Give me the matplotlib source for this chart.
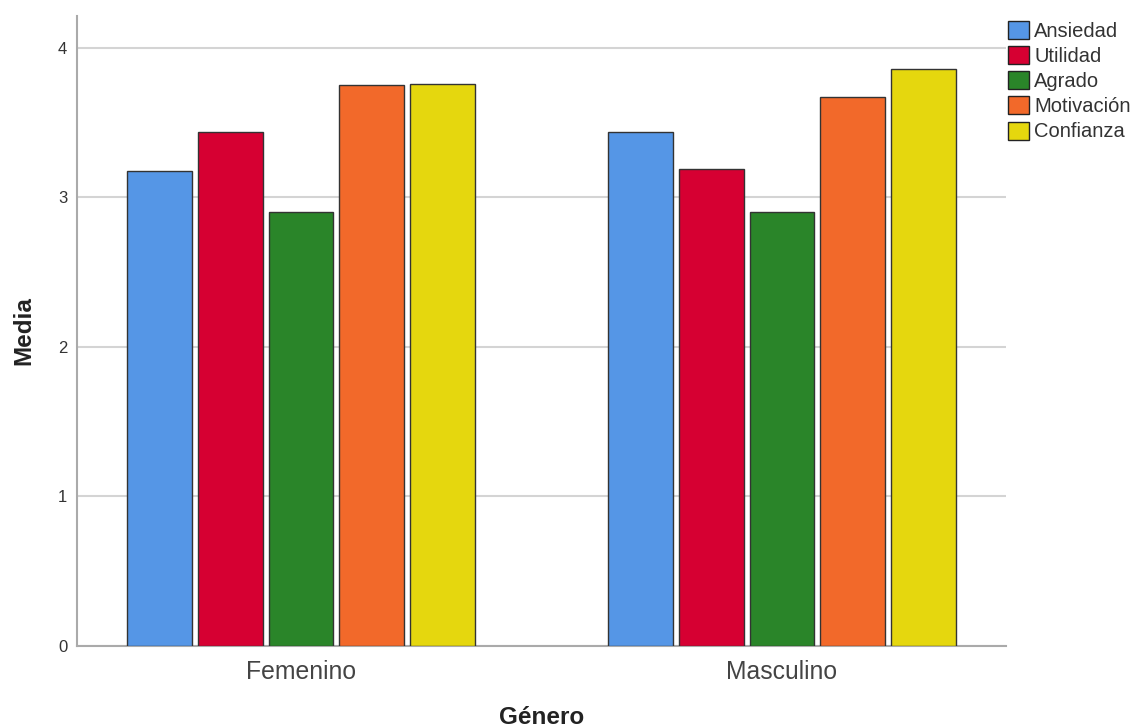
import matplotlib
matplotlib.use("Agg")
import matplotlib.pyplot as plt
import numpy as np
from matplotlib.patches import Patch

plt.rcParams['font.family'] = ['Liberation Sans', 'DejaVu Sans']

groups = ["Femenino", "Masculino"]
series = ["Ansiedad", "Utilidad", "Agrado", "Motivación", "Confianza"]
ansiedad = [3.18, 3.44]
utilidad = [3.44, 3.19]
agrado = [2.90, 2.90]
motivacion = [3.75, 3.67]
confianza = [3.76, 3.86]
values = [ansiedad, utilidad, agrado, motivacion, confianza]
colors = ["#5596E6", "#D60032", "#2A8529", "#F2692A", "#E5D70E"]
yticks = [0, 1, 2, 3, 4]

fig = plt.figure(figsize=(11.34, 7.27), dpi=100)
ax = fig.add_axes([77/1134, 1-646/727, (1006-77)/1134, (646-16)/727])

x = np.arange(len(groups))
slot = 0.147
width = 0.134
for i, (name, vals, c) in enumerate(zip(series, values, colors)):
    ax.bar(x + (i - 2) * slot, vals, width=width, color=c, edgecolor="#333333",
           linewidth=1.0, label=name, zorder=3)

ax.set_xlim(-0.4657, 1.4657)
ax.set_ylim(0, 4.214)
ax.set_yticks(yticks)
ax.set_yticklabels([str(t) for t in yticks], fontsize=12, color="#333333")
ax.set_xticks(x)
ax.set_xticklabels(groups, fontsize=17.8, color="#444444")
ax.tick_params(axis='both', length=0)
ax.tick_params(axis='y', pad=7)
ax.tick_params(axis='x', pad=10)
ax.yaxis.grid(True, color="#d4d4d4", linewidth=1.5, zorder=0)
ax.set_axisbelow(True)
for s in ["top", "right"]:
    ax.spines[s].set_visible(False)
for s in ["left", "bottom"]:
    ax.spines[s].set_color("#aaaaaa")
    ax.spines[s].set_linewidth(1.5)

ax.set_ylabel("Media", fontsize=17.5, fontweight="bold", color="#222222", labelpad=16)
ax.set_xlabel("Género", fontsize=17.5, fontweight="bold", color="#222222", labelpad=16)

handles = [Patch(facecolor=c, edgecolor="#222222", linewidth=1.0, label=n) for n, c in zip(series, colors)]
leg = fig.legend(handles=handles, loc="upper left", bbox_to_anchor=(1008/1134, 1-21/727),
                 frameon=False, fontsize=14.5, handlelength=1.05, handleheight=1.0,
                 handletextpad=0.25, labelspacing=0.26, borderaxespad=0, borderpad=0.0)
for t in leg.get_texts():
    t.set_color("#333333")

fig.savefig("out.png", dpi=100)
